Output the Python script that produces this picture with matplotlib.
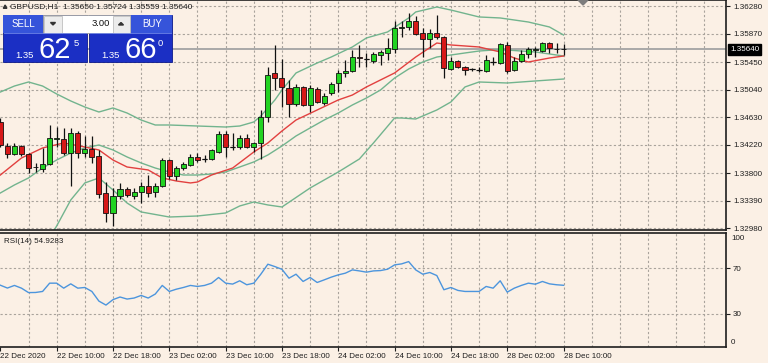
import numpy as np
import matplotlib
matplotlib.use('Agg')
import matplotlib.pyplot as plt
from matplotlib.patches import Rectangle, Polygon
import matplotlib.transforms as mtransforms

# ---------------- data ----------------
symbol_title = "GBPUSD,H1  1.35650 1.35724 1.35559 1.35640"

opens = [1.34560, 1.34203, 1.34084, 1.34203, 1.34084, 1.33892, 1.33862, 1.33936, 1.34307, 1.34307,
         1.34099, 1.34396, 1.34099, 1.34159, 1.34055, 1.33505, 1.33208, 1.33461, 1.33564, 1.33461,
         1.33520, 1.33609, 1.33520, 1.33609, 1.33995, 1.33758, 1.33876, 1.33921, 1.34040, 1.34010,
         1.34010, 1.34114, 1.34381, 1.34188, 1.34188, 1.34322, 1.34188, 1.34248, 1.34634, 1.35288,
         1.35213, 1.35065, 1.34827, 1.35080, 1.34812, 1.35050, 1.34842, 1.34990, 1.35139, 1.35288,
         1.35317, 1.35525, 1.35496, 1.35466, 1.35555, 1.35585, 1.35644, 1.35956, 1.35971, 1.36060,
         1.35882, 1.35793, 1.35882, 1.35822, 1.35347, 1.35466, 1.35377, 1.35347, 1.35332, 1.35317,
         1.35451, 1.35436, 1.35704, 1.35332, 1.35466, 1.35570, 1.35629, 1.35614, 1.35733, 1.35644,
         1.35650]
highs = [1.34619, 1.34248, 1.34248, 1.34218, 1.34099, 1.33951, 1.34173, 1.34515, 1.34485, 1.34471,
         1.34471, 1.34426, 1.34352, 1.34352, 1.34144, 1.33668, 1.33579, 1.33654, 1.33594, 1.33579,
         1.33668, 1.33775, 1.33654, 1.34025, 1.34010, 1.33907, 1.33966, 1.34084, 1.34099, 1.34070,
         1.34159, 1.34426, 1.34426, 1.34396, 1.34367, 1.34381, 1.34263, 1.34738, 1.35377, 1.35704,
         1.35496, 1.35184, 1.35124, 1.35094, 1.35109, 1.35080, 1.34990, 1.35154, 1.35332, 1.35481,
         1.35629, 1.35704, 1.35585, 1.35600, 1.35629, 1.35808, 1.36060, 1.36060, 1.36179, 1.36134,
         1.35956, 1.35941, 1.36149, 1.35837, 1.35525, 1.35481, 1.35392, 1.35362, 1.35377, 1.35555,
         1.35525, 1.35733, 1.35748, 1.35525, 1.35629, 1.35674, 1.35674, 1.35748, 1.35748, 1.35733,
         1.35724]
lows = [1.34188, 1.34025, 1.34070, 1.34055, 1.33802, 1.33817, 1.33817, 1.33921, 1.34188, 1.34070,
        1.33609, 1.34025, 1.34040, 1.33951, 1.33431, 1.33074, 1.33015, 1.33416, 1.33446, 1.33416,
        1.33356, 1.33446, 1.33446, 1.33594, 1.33713, 1.33698, 1.33848, 1.33907, 1.33966, 1.33966,
        1.33995, 1.34099, 1.34040, 1.34144, 1.34159, 1.34173, 1.34114, 1.34010, 1.34560, 1.35035,
        1.34783, 1.34634, 1.34797, 1.34797, 1.34708, 1.34842, 1.34812, 1.34960, 1.35005, 1.35228,
        1.35302, 1.35377, 1.35377, 1.35436, 1.35407, 1.35481, 1.35585, 1.35822, 1.35926, 1.35852,
        1.35525, 1.35659, 1.35793, 1.35213, 1.35332, 1.35362, 1.35258, 1.35317, 1.35302, 1.35302,
        1.35407, 1.35421, 1.35288, 1.35317, 1.35451, 1.35510, 1.35525, 1.35600, 1.35585, 1.35585,
        1.35559]
closes = [1.34218, 1.34084, 1.34203, 1.34084, 1.33876, 1.33884, 1.33936, 1.34322, 1.34322, 1.34099,
          1.34396, 1.34099, 1.34159, 1.34040, 1.33490, 1.33208, 1.33461, 1.33564, 1.33475, 1.33520,
          1.33609, 1.33505, 1.33609, 1.33995, 1.33758, 1.33876, 1.33936, 1.34040, 1.33995, 1.34012,
          1.34144, 1.34381, 1.34188, 1.34190, 1.34322, 1.34188, 1.34248, 1.34634, 1.35258, 1.35213,
          1.35080, 1.34827, 1.35080, 1.34812, 1.35065, 1.34857, 1.34946, 1.35124, 1.35288, 1.35317,
          1.35525, 1.35510, 1.35494, 1.35570, 1.35600, 1.35659, 1.35956, 1.35971, 1.36060, 1.35867,
          1.35793, 1.35882, 1.35822, 1.35362, 1.35466, 1.35377, 1.35332, 1.35345, 1.35334, 1.35481,
          1.35453, 1.35719, 1.35317, 1.35466, 1.35570, 1.35644, 1.35644, 1.35733, 1.35659, 1.35650,
          1.35640]

# Bollinger bands and moving average (read at sample bars)
bb_up_bars = [0, 2, 4, 6, 8, 10, 12, 14, 16, 18, 20, 22, 24, 28, 32, 34, 36, 37, 38, 39, 40, 42, 45,
              47, 50, 52, 55, 58, 59, 62, 64, 68, 71, 75, 78, 80]
bb_up = [1.35005, 1.35094, 1.35154, 1.35094, 1.34976, 1.34872, 1.34782, 1.34708, 1.34768, 1.34693,
         1.34589, 1.34515, 1.34515, 1.34500, 1.34485, 1.34500, 1.34560, 1.34649, 1.34768, 1.34887,
         1.35035, 1.35288, 1.35436, 1.35525, 1.35674, 1.35808, 1.35897, 1.36105, 1.36194, 1.36268,
         1.36223, 1.36120, 1.36105, 1.36045, 1.35971, 1.35852]
bb_mid_bars = [0, 2, 4, 6, 8, 10, 12, 14, 16, 18, 20, 22, 24, 26, 28, 30, 32, 34, 36, 38, 40, 42, 44,
               46, 48, 50, 52, 54, 56, 58, 60, 62, 64, 66, 68, 70, 72, 74, 76, 78, 80]
bb_mid = [1.33505, 1.33624, 1.33728, 1.33876, 1.33995, 1.34099, 1.34174, 1.34218, 1.34144, 1.34040,
          1.33951, 1.33876, 1.33817, 1.33772, 1.33772, 1.33787, 1.33817, 1.33891, 1.33966, 1.34070,
          1.34203, 1.34352, 1.34471, 1.34589, 1.34693, 1.34812, 1.34916, 1.35035, 1.35213, 1.35347,
          1.35451, 1.35525, 1.35555, 1.35585, 1.35614, 1.35629, 1.35629, 1.35614, 1.35600, 1.35570,
          1.35540]
bb_lo_bars = [0, 2, 4, 6, 8, 10, 12, 14, 16, 18, 20, 24, 28, 32, 34, 36, 38, 40, 44, 48, 51, 53, 56,
              57, 59, 62, 64, 66, 68, 72, 76, 80]
bb_lo = [1.32005, 1.32123, 1.32302, 1.32658, 1.33015, 1.33401, 1.33654, 1.33728, 1.33550, 1.33356,
         1.33223, 1.33148, 1.33163, 1.33208, 1.33312, 1.33371, 1.33327, 1.33297, 1.33579, 1.33817,
         1.34010, 1.34248, 1.34619, 1.34619, 1.34604, 1.34738, 1.34857, 1.35080, 1.35154, 1.35139,
         1.35169, 1.35198]
ma_bars = [0, 3, 6, 9, 12, 14, 16, 18, 21, 23, 25, 27, 28, 30, 33, 36, 38, 40, 42, 45, 48, 50, 52,
           56, 59, 62, 64, 68, 71, 73, 75, 78, 80]
ma = [1.33772, 1.34025, 1.34174, 1.34248, 1.34188, 1.34144, 1.33995, 1.33891, 1.33847, 1.33728,
      1.33683, 1.33654, 1.33668, 1.33772, 1.33876, 1.34114, 1.34248, 1.34426, 1.34589, 1.34738,
      1.34887, 1.34960, 1.35080, 1.35288, 1.35525, 1.35733, 1.35704, 1.35674, 1.35600, 1.35510,
      1.35451, 1.35510, 1.35540]

rsi = [55.0, 52.5, 54.8, 52.4, 48.5, 48.6, 49.5, 56.8, 56.8, 52.4,
       56.2, 52.4, 53.0, 49.5, 41.0, 37.5, 42.3, 44.6, 42.8, 43.7,
       46.0, 43.7, 47.2, 54.8, 49.5, 51.5, 53.0, 54.8, 53.9, 54.8,
       56.8, 61.8, 56.8, 56.0, 58.9, 55.4, 56.8, 64.7, 73.5, 71.4,
       69.0, 61.2, 64.7, 58.3, 61.8, 57.4, 59.7, 62.1, 64.1, 65.6,
       68.5, 67.6, 66.5, 67.6, 67.9, 69.1, 72.9, 73.8, 75.8, 68.5,
       64.7, 66.2, 63.5, 51.0, 53.0, 50.4, 49.5, 49.5, 49.5, 53.9,
       52.4, 58.9, 48.9, 52.4, 54.8, 56.8, 55.9, 58.3, 56.2, 55.4,
       54.93]
rsi_label = "RSI(14) 54.9283"

price_ticks = [1.36280, 1.35870, 1.35450, 1.35040, 1.34630, 1.34220, 1.33800, 1.33390, 1.32980]
current_price = 1.35640
time_tick_bars = [0, 8, 16, 24, 32, 40, 48, 56, 64, 72, 80]
time_labels = ["22 Dec 2020", "22 Dec 10:00", "22 Dec 18:00", "23 Dec 02:00", "23 Dec 10:00",
               "23 Dec 18:00", "24 Dec 02:00", "24 Dec 10:00", "24 Dec 18:00", "28 Dec 02:00",
               "28 Dec 10:00"]

# ---------------- layout ----------------
W, H = 768, 363
BG = '#FBF0E5'
GRID = '#A9A39C'
FRAME = '#1E1E1E'
BULL = '#22D322'
BEAR = '#D61818'
BB_COL = '#72B48E'
MA_COL = '#E2403F'
RSI_COL = '#4C95DD'
FONT = 'Liberation Sans'
plt.rcParams['font.family'] = [FONT, 'DejaVu Sans']

fig = plt.figure(figsize=(W / 100, H / 100), dpi=100)
fig.patch.set_facecolor(BG)


def fy(y):
    return 1 - y / H


PLOT_R = 726
PX_BAR = 7.04
xmin = -0.05
xmax = xmin + PLOT_R / PX_BAR

main = fig.add_axes([0, fy(230), PLOT_R / W, 230 / H])
rax = fig.add_axes([0, fy(346.5), PLOT_R / W, (346.5 - 233) / H])

for ax in (main, rax):
    ax.set_facecolor(BG)
    ax.set_xlim(xmin, xmax)
    ax.spines['left'].set_visible(False)
    for s in ('top', 'right', 'bottom'):
        ax.spines[s].set_color(FRAME)
        ax.spines[s].set_linewidth(1.2)
    for b in range(4, 101, 4):
        ax.axvline(b, color=GRID, lw=0.8, dashes=(2, 2), zorder=0.5)

# main price panel
main.set_ylim(1.32955, 1.36372)
for p in price_ticks:
    main.axhline(p, color=GRID, lw=0.8, dashes=(2, 2), zorder=0.5)
main.axhline(current_price, color='#A3A3A3', lw=1.3, zorder=0.8)

main.plot(bb_up_bars, bb_up, color=BB_COL, lw=1.0, zorder=1.5)
main.plot(bb_mid_bars, bb_mid, color=BB_COL, lw=1.0, zorder=1.5)
main.plot(bb_lo_bars, bb_lo, color=BB_COL, lw=1.0, zorder=1.5)
main.plot(ma_bars, ma, color=MA_COL, lw=1.0, zorder=1.6)

bars = np.arange(len(opens))
o = np.array(opens); c = np.array(closes); h = np.array(highs); l = np.array(lows)
main.vlines(bars, l, h, color='#111111', lw=0.9, zorder=2)
body_lo = np.minimum(o, c)
body_h = np.abs(c - o)
cols = [BULL if cc >= oo else BEAR for oo, cc in zip(o, c)]
main.bar(bars, body_h, bottom=body_lo, width=0.72, color=cols, edgecolor='#111111',
         linewidth=0.6, zorder=3)
dojis = body_h < 0.00004
main.hlines(c[dojis], bars[dojis] - 0.38, bars[dojis] + 0.38, color='#111111', lw=0.9, zorder=3.1)

main.yaxis.tick_right()
main.set_yticks(price_ticks)
main.set_yticklabels([f"{p:.5f}" for p in price_ticks])
main.tick_params(axis='y', length=3, width=0.8, pad=2, labelsize=5.8, colors=FRAME)
main.tick_params(axis='x', bottom=False, labelbottom=False)

# current price label
tr = mtransforms.blended_transform_factory(main.transAxes, main.transData)
main.text(1.0 + 4 / PLOT_R, current_price, "1.35640", transform=tr, fontsize=5.8,
          color='white', va='center', ha='left', clip_on=False, zorder=10,
          bbox=dict(boxstyle='square,pad=0.25', fc='black', ec='black'))

# RSI panel
rax.set_ylim(1, 101)
for lv in (70, 30):
    rax.axhline(lv, color=GRID, lw=0.8, dashes=(2, 2), zorder=0.5)
rax.plot(bars, rsi, color=RSI_COL, lw=1.0, zorder=2)
rax.yaxis.tick_right()
rax.set_yticks([70, 30])
rax.set_yticklabels(['70', '30'])
rax.tick_params(axis='y', length=3, width=0.8, pad=2, labelsize=5.8, colors=FRAME)
rax.set_xticks(time_tick_bars)
rax.set_xticklabels(time_labels, ha='left')
rax.tick_params(axis='x', length=3, width=0.8, pad=2, labelsize=5.8, colors=FRAME)
for t in rax.get_xticklabels():
    t.set_horizontalalignment('left')
rax.text(4 / PLOT_R, 1 - 8 / 113.5, rsi_label, transform=rax.transAxes, fontsize=5.8,
         color=FRAME, va='center', ha='left')

# ---------------- overlay (pixel coordinates) ----------------
ov = fig.add_axes([0, 0, 1, 1], zorder=20)
ov.set_xlim(0, W)
ov.set_ylim(H, 0)
ov.axis('off')
ov.patch.set_alpha(0)

ov.text(731, 238, '100', fontsize=5.8, color=FRAME, va='center', ha='left')
ov.text(731, 342, '0', fontsize=5.8, color=FRAME, va='center', ha='left')

# title
ov.add_patch(Polygon([(3.3, 8.3), (6.9, 8.3), (5.1, 5.0)], closed=True, color='#333333'))
ov.text(10, 6.8, symbol_title, fontsize=6.0, color='#1E1E1E', va='center', ha='left')
# chart-shift marker
ov.add_patch(Polygon([(578, 0), (588, 0), (583, 5)], closed=True, color='#7D7D7D'))

# one-click trading panel
DARK = '#1B2FC4'
HEAD = '#3654DA'
for x0, x1 in ((3, 87), (89, 172)):
    ov.add_patch(Rectangle((x0, 15), x1 - x0, 47, fc=DARK, ec='#0D1A8A', lw=0.6))
    ov.add_patch(Rectangle((x0, 15), x1 - x0, 18, fc=HEAD, ec='none'))
    ov.plot([x0 + 1, x1 - 1], [33, 33], color='#6E84E8', lw=0.6)
# lot box
ov.add_patch(Rectangle((43, 15), 87, 18, fc='white', ec='#9A9A9A', lw=0.6))
ov.add_patch(Rectangle((43.5, 15.5), 18, 17, fc='#ECECEC', ec='#B5B5B5', lw=0.5))
ov.add_patch(Rectangle((112.5, 15.5), 17, 17, fc='#ECECEC', ec='#B5B5B5', lw=0.5))
ov.add_patch(Polygon([(50.5, 22.5), (55.5, 22.5), (53, 25)], closed=True, color='#333333'))
ov.add_patch(Polygon([(118.5, 25), (123.5, 25), (121, 22.5)], closed=True, color='#333333'))
ov.text(110, 24, '3.00', fontsize=6.8, color='#111111', va='center', ha='right')
ov.text(12, 24, 'SELL', fontsize=7.0, color='white', va='center', ha='left')
ov.text(142, 24, 'BUY', fontsize=7.0, color='white', va='center', ha='left')
# prices
ov.text(15, 57.5, '1.35', fontsize=6.8, color='white', va='baseline', ha='left')
ov.text(39, 58.5, '62', fontsize=21, color='white', va='baseline', ha='left')
ov.text(74, 46.5, '5', fontsize=6.8, color='white', va='baseline', ha='left')
ov.text(101, 57.5, '1.35', fontsize=6.8, color='white', va='baseline', ha='left')
ov.text(124, 58.5, '66', fontsize=21, color='white', va='baseline', ha='left')
ov.text(158, 46.5, '0', fontsize=6.8, color='white', va='baseline', ha='left')

fig.savefig('out.png', dpi=100, facecolor=BG)
